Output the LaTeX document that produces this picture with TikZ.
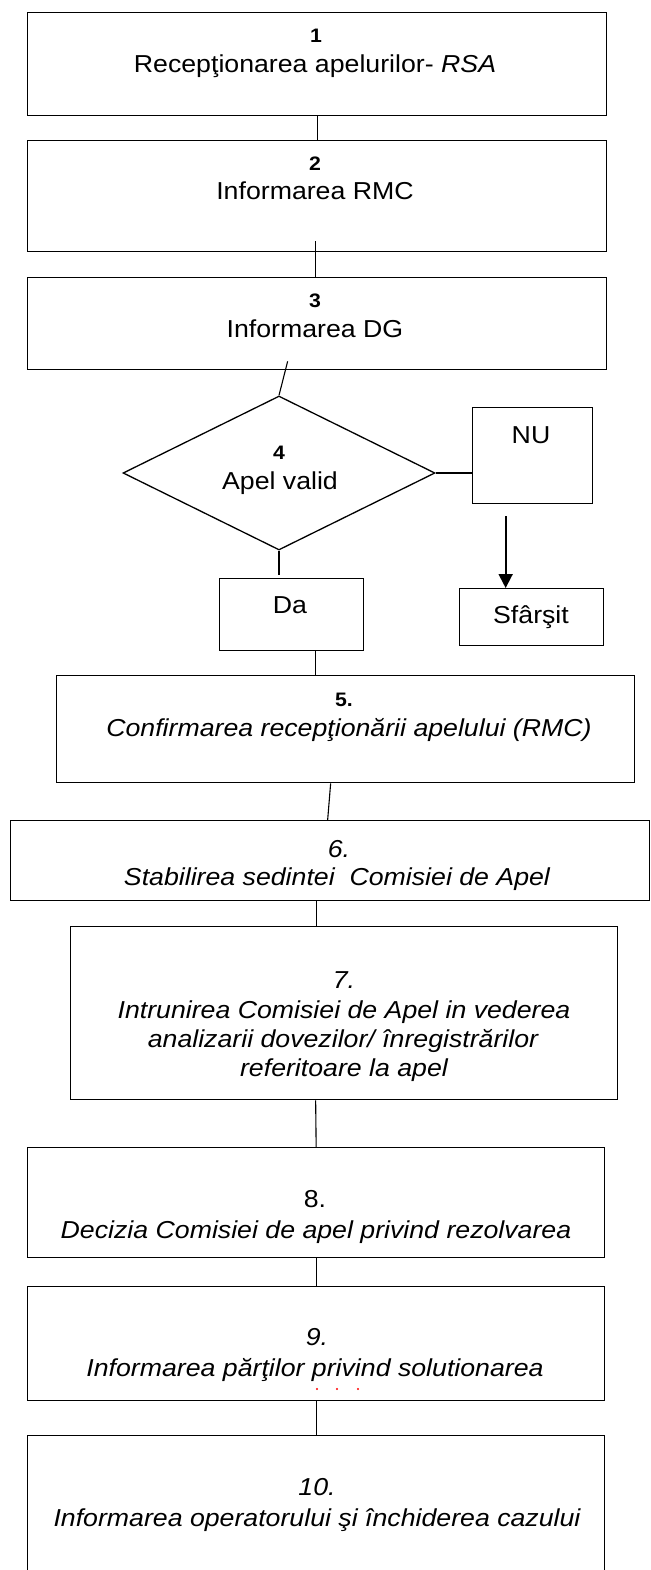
\documentclass[tikz,border=0pt]{standalone}
\usepackage{fontspec}
\setmainfont{Liberation Sans}[FakeStretch=1.09]
\usetikzlibrary{shapes.geometric,arrows.meta}
\newcommand\mainsz{\fontsize{24.5}{29}\selectfont}
\newcommand\numsz{\fontsize{19.5}{23}\selectfont\bfseries}
\begin{document}
\begin{tikzpicture}[x=1pt,y=-1pt,
  box/.style={draw,line width=1.3pt,rectangle,anchor=north west,inner sep=0pt},
  txt/.style={anchor=base,inner sep=0pt,font=\mainsz},
  itx/.style={anchor=base,inner sep=0pt,font=\mainsz\itshape},
  num/.style={anchor=base,inner sep=0pt,font=\numsz},
  link/.style={line width=1.1pt},
  arrowlink/.style={line width=1.9pt,-{Triangle[length=14pt,width=14pt]}}
]
\useasboundingbox (0,0) rectangle (650,1570);
\fill[white] (0,0) rectangle (650,1570);

% boxes
\node[box,minimum width=579pt,minimum height=103pt] (b1) at (27,12) {};
\node[box,minimum width=579pt,minimum height=111pt] (b2) at (27,140) {};
\node[box,minimum width=579pt,minimum height=92pt] (b3) at (27,277) {};
\node[draw,line width=1.3pt,diamond,minimum width=312pt,minimum height=154pt,inner sep=0pt] (d) at (279,473) {};
\node[box,minimum width=120pt,minimum height=96pt] (nu) at (472,407) {};
\node[box,minimum width=144pt,minimum height=57pt] (sf) at (459,588) {};
\node[box,minimum width=144pt,minimum height=72pt] (da) at (219,578) {};
\node[box,minimum width=578pt,minimum height=107pt] (b5) at (56,675) {};
\node[box,minimum width=639pt,minimum height=80pt] (b6) at (10,820) {};
\node[box,minimum width=547pt,minimum height=173pt] (b7) at (70,926) {};
\node[box,minimum width=577pt,minimum height=110pt] (b8) at (27,1147) {};
\node[box,minimum width=577pt,minimum height=114pt] (b9) at (27,1286) {};
\node[box,minimum width=577pt,minimum height=150pt] (b10) at (27,1435) {};

% texts
\node[num] (t1n) at (316,43) {1};
\node[txt] (t1) at (315,73) {Recepţionarea apelurilor- \textit{RSA}};
\node[num] (t2n) at (315,171) {2};
\node[txt] (t2) at (315,200) {Informarea RMC};
\node[num] (t3n) at (315,307) {3};
\node[txt] (t3) at (315,337) {Informarea DG};
\node[num] (t4n) at (279,459) {4};
\node[txt] (t4) at (280,489) {Apel valid};
\node[txt] (tnu) at (531,443) {NU};
\node[txt] (tsf) at (531,623) {Sfârşit};
\node[txt] (tda) at (290,613) {Da};
\node[num] (t5n) at (344,706) {5.};
\node[itx] (t5) at (349,736) {Confirmarea recepţionării apelului (RMC)};
\node[itx] (t6n) at (339,857) {6.};
\node[itx] (t6) at (337,885) {Stabilirea sedintei\ \ Comisiei de Apel};
\node[itx] (t7n) at (344,988) {7.};
\node[itx] (t7a) at (344,1018) {Intrunirea Comisiei de Apel in vederea};
\node[itx] (t7b) at (343,1047) {analizarii dovezilor/ înregistrărilor};
\node[itx] (t7c) at (344,1076) {referitoare la apel};
\node[txt] (t8n) at (315,1207) {8.};
\node[itx] (t8) at (316,1238) {Decizia Comisiei de apel privind rezolvarea};
\node[itx] (t9n) at (317,1345) {9.};
\node[itx] (t9) at (315,1376) {Informarea părţilor privind solutionarea};
\node[itx] (t10n) at (317,1495) {10.};
\node[itx] (t10) at (317,1526) {Informarea operatorului şi închiderea cazului};

% red marks
\fill[red] (317,1389) circle (1.1);
\fill[red] (337,1389) circle (1.1);
\fill[red] (358,1389) circle (1.1);

% connectors
\draw[link] (b1.south) -- (b2.north);
\draw[link] ([xshift=-1.5pt,yshift=11pt]b2.south) -- ([xshift=-1.5pt]b3.north);
\draw[link] ([xshift=-29.5pt,yshift=9pt]b3.south) -- (d.north);
\draw[link] (d.east) -- (d.east -| nu.west);
\draw[arrowlink] ([xshift=-27pt,yshift=-12pt]nu.south) -- ([xshift=-26pt]sf.north);
\draw[link] (d.south) -- ([yshift=3pt]d.south |- da.north);
\draw[link] ([xshift=24pt]da.south) -- ([xshift=24pt]da.south |- b5.north);
\draw[link] ([xshift=-15pt]b5.south) -- ([xshift=-2.5pt]b6.north);
\draw[link] ([xshift=-13.5pt]b6.south) -- ([xshift=-27.5pt]b7.north);
\draw[link] ([xshift=-28.5pt]b7.south) -- (b8.north);
\draw[link] (b8.south) -- (b9.north);
\draw[link] (b9.south) -- (b10.north);
\end{tikzpicture}
\end{document}
